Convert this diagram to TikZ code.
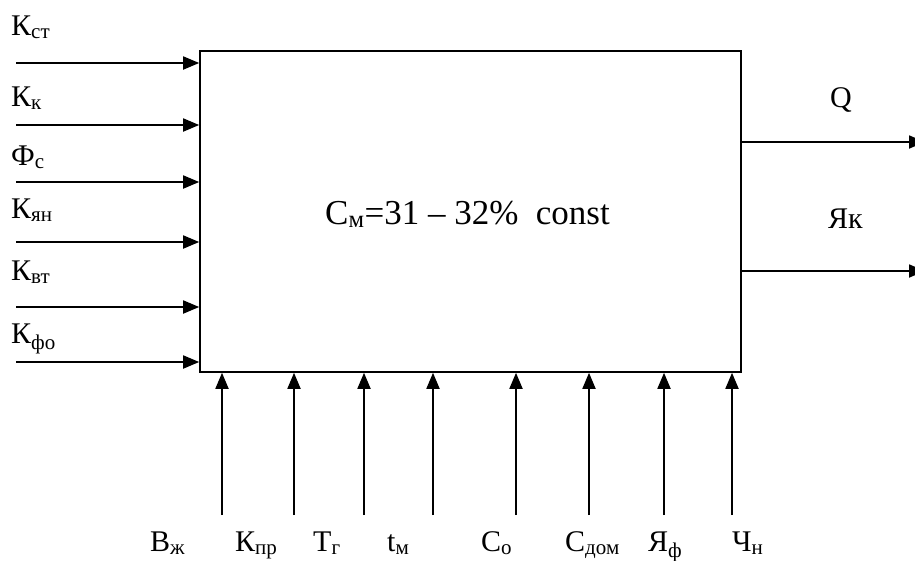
\documentclass[tikz,border=0pt]{standalone}
\usepackage{fontspec}
\setmainfont{Liberation Serif}
\usetikzlibrary{arrows.meta}

\begin{document}
\begin{tikzpicture}[
        x=1pt, y=-1pt,
        >={Triangle[length=16pt,width=13pt]},
        % Styles
        model/.style={draw=black, line width=1.6pt, minimum width=541pt, minimum height=321pt, inner sep=0pt},
        factor/.style={anchor=base west, inner sep=0pt, font=\fontsize{30}{36}\selectfont},
        flow/.style={->, line width=1.8pt}
    ]

    \useasboundingbox (0,0) rectangle (915,560);

    % ================= MODEL BOX =================
    \node[model] (model) at (470.5,211.5) {};
    \node[factor, font=\fontsize{35}{40}\selectfont] (title) at (325,224) {С\textsubscript{м}=31 – 32\%\ \ const};

    % ================= LEFT INPUTS =================
    \foreach \i/\txt/\ty/\ay in {1/К\textsubscript{ст}/35/63, 2/К\textsubscript{к}/106/125, 3/Ф\textsubscript{с}/165/182,
                                 4/К\textsubscript{ян}/218/242, 5/К\textsubscript{вт}/280/307, 6/К\textsubscript{фо}/343/362}{
        \node[factor] (inlab\i) at (11,\ty) {\txt};
        \coordinate (in\i) at (16,\ay);
        \draw[flow] (in\i) -- (in\i -| model.west);
    }

    % ================= BOTTOM INPUTS =================
    \foreach \i/\txt/\tx/\ax in {1/В\textsubscript{ж}/150/222, 2/К\textsubscript{пр}/235/294, 3/Т\textsubscript{г}/313/364,
                                 4/t\textsubscript{м}/387/433, 5/С\textsubscript{о}/481/516, 6/С\textsubscript{дом}/565/589,
                                 7/Я\textsubscript{ф}/648/664, 8/Ч\textsubscript{н}/732/732}{
        \node[factor] (botlab\i) at (\tx,551) {\txt};
        \coordinate (bot\i) at (\ax,515);
        \draw[flow] (bot\i) -- (bot\i |- model.south);
    }

    % ================= OUTPUTS =================
    \coordinate (out1) at (925,142);
    \coordinate (out2) at (925,271);
    \draw[flow] (out1 -| model.east) -- (out1);
    \draw[flow] (out2 -| model.east) -- (out2);
    \node[factor] (outlab1) at (830,107) {Q};
    \node[factor] (outlab2) at (828,228) {Як};

\end{tikzpicture}
\end{document}
